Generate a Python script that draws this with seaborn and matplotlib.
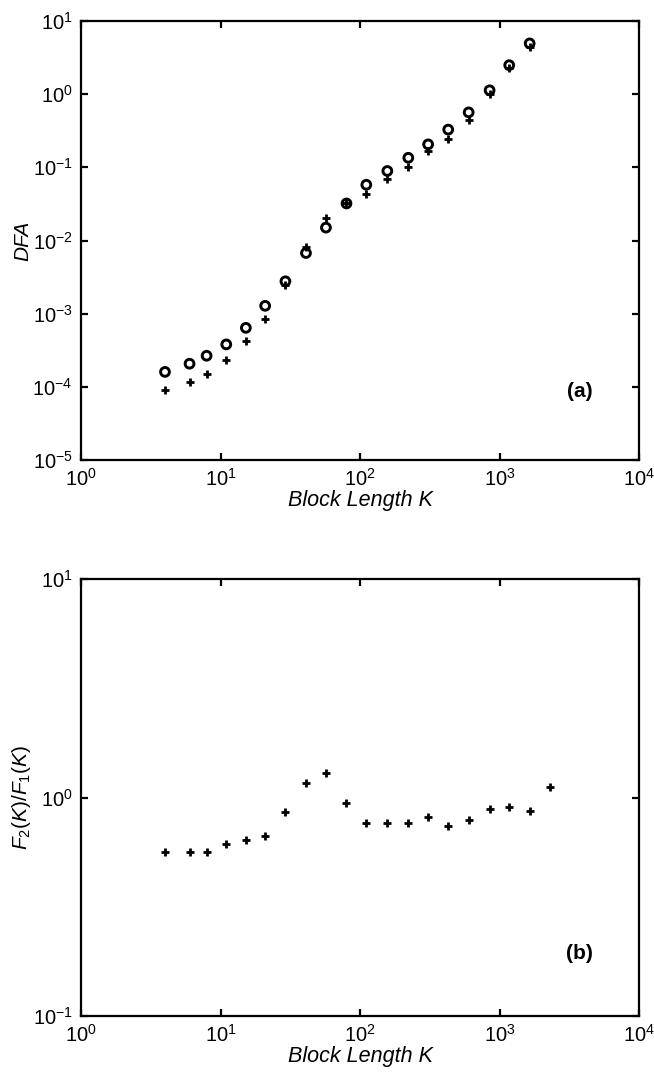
import numpy as np
import pandas as pd
import matplotlib
matplotlib.use("Agg")
import matplotlib.pyplot as plt
import seaborn as sns
from matplotlib.ticker import LogLocator, LogFormatterSciNotation, NullLocator

# Block lengths K
block_k = [4.0, 6.0, 7.95, 11.0, 15.2, 20.9, 29.2, 41.0, 57.0, 80.0,
           111, 157, 222, 308, 429, 601, 849, 1174, 1645]
block_k_ratio = block_k + [2305]

# DFA fluctuation functions
f1_values = [1.60e-4, 2.07e-4, 2.66e-4, 3.80e-4, 6.40e-4, 1.28e-3, 2.77e-3,
             6.74e-3, 1.50e-2, 3.21e-2, 5.78e-2, 8.92e-2, 0.135, 0.206,
             0.328, 0.564, 1.13, 2.49, 4.94]
f2_values = [8.97e-5, 1.15e-4, 1.49e-4, 2.33e-4, 4.19e-4, 8.57e-4, 2.48e-3,
             8.11e-3, 2.00e-2, 3.21e-2, 4.36e-2, 6.87e-2, 0.102, 0.166,
             0.242, 0.449, 1.01, 2.31, 4.44]

# Ratio F2/F1
ratio_values = [0.564, 0.564, 0.564, 0.615, 0.642, 0.670, 0.860, 1.168, 1.30,
                0.944, 0.763, 0.763, 0.766, 0.814, 0.744, 0.786, 0.888, 0.904,
                0.869, 1.118]

x_ticks = [1e0, 1e1, 1e2, 1e3, 1e4]

sns.set_style("ticks")
plt.rcParams["font.family"] = ["Liberation Sans", "DejaVu Sans"]
plt.rcParams["mathtext.fontset"] = "custom"
plt.rcParams["mathtext.rm"] = "Liberation Sans"
plt.rcParams["mathtext.it"] = "Liberation Sans:italic"
plt.rcParams["mathtext.bf"] = "Liberation Sans:bold"
plt.rcParams["axes.linewidth"] = 1.6
plt.rcParams["axes.edgecolor"] = "black"
plt.rcParams["text.color"] = "black"
plt.rcParams["axes.labelcolor"] = "black"
plt.rcParams["xtick.color"] = "black"
plt.rcParams["ytick.color"] = "black"

fig = plt.figure(figsize=(6.54, 10.78), dpi=100)
ax1 = fig.add_axes([81 / 654, 1 - 460 / 1078, 558 / 654, 439 / 1078])
ax2 = fig.add_axes([81 / 654, 1 - 1016 / 1078, 558 / 654, 437 / 1078])

df_dfa = pd.DataFrame({"K": block_k, "F1": f1_values, "F2": f2_values})
df_ratio = pd.DataFrame({"K": block_k_ratio, "ratio": ratio_values})

sns.scatterplot(data=df_dfa, x="K", y="F1", marker="o", s=40,
                facecolors="none", edgecolor="black", linewidth=2.1, ax=ax1,
                zorder=3)
sns.scatterplot(data=df_dfa, x="K", y="F2", marker="+", s=40,
                color="black", linewidth=2.0, ax=ax1, zorder=3)
sns.scatterplot(data=df_ratio, x="K", y="ratio", marker="+", s=40,
                color="black", linewidth=2.0, ax=ax2, zorder=3)


def style_axis(ax, ylim, ylabel, tag, tag_y):
    ax.set_xscale("log")
    ax.set_yscale("log")
    ax.set_xlim(1, 1e4)
    ax.set_ylim(*ylim)
    ax.xaxis.set_major_locator(LogLocator(base=10, numticks=10))
    ax.yaxis.set_major_locator(LogLocator(base=10, numticks=10))
    ax.xaxis.set_minor_locator(NullLocator())
    ax.yaxis.set_minor_locator(NullLocator())
    ax.xaxis.set_major_formatter(LogFormatterSciNotation())
    ax.yaxis.set_major_formatter(LogFormatterSciNotation())
    ax.set_xticks(x_ticks)
    ax.tick_params(axis="both", which="major", direction="in", length=5,
                   width=1.6, top=True, right=True, labelsize=14.5,
                   colors="black", labelcolor="black")
    ax.tick_params(axis="x", pad=6)
    ax.tick_params(axis="y", pad=6)
    for side in ["top", "right", "left", "bottom"]:
        ax.spines[side].set_visible(True)
        ax.spines[side].set_linewidth(1.6)
        ax.spines[side].set_color("black")
    ax.set_xlabel("Block Length K", fontsize=15.5, style="italic",
                  labelpad=0, color="black")
    ax.set_ylabel(ylabel, fontsize=15, labelpad=0, color="black")
    ax.text(0.894, tag_y, tag, transform=ax.transAxes, fontsize=15,
            fontweight="bold", ha="center", va="center", color="black")


style_axis(ax1, (1e-5, 1e1), "DFA", "(a)", 0.157)
ax1.yaxis.label.set_style("italic")
style_axis(ax2, (1e-1, 1e1), r"$\mathit{F_2(K)/F_1(K)}$", "(b)", 0.143)

fig.savefig("out.png", dpi=100)
